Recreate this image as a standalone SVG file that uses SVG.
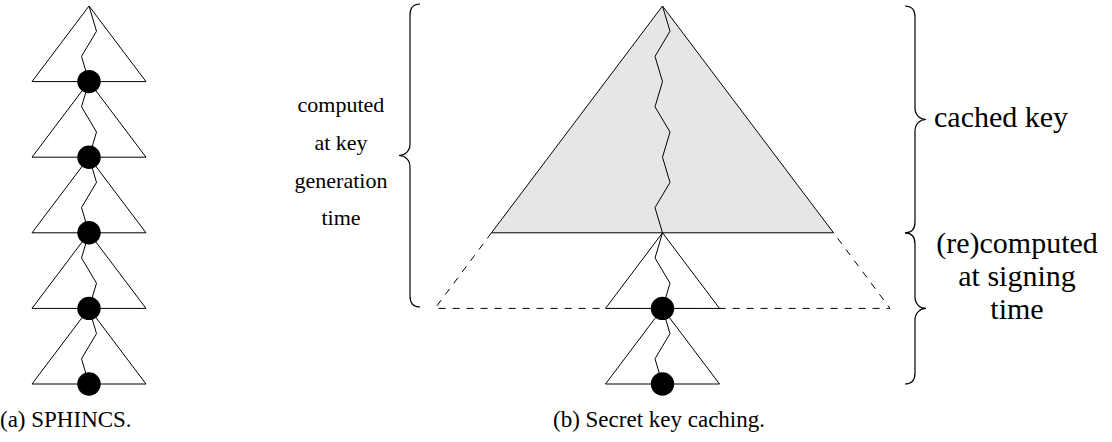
<svg xmlns="http://www.w3.org/2000/svg" width="1112" height="442" viewBox="0 0 1112 442">
<style>
.tri{fill:#fff;stroke:#000;stroke-width:1;stroke-linejoin:miter}
.gray{fill:#e6e6e6;stroke:#000;stroke-width:1}
.zz{fill:none;stroke:#000;stroke-width:1}
.dot{fill:#000}
.dash{fill:none;stroke:#000;stroke-width:1;stroke-dasharray:7 7}
.brace{fill:none;stroke:#000;stroke-width:1.2}
text{font-family:"Liberation Serif","DejaVu Serif",serif;font-size:22px;fill:#000}
.c{text-anchor:middle}
.big{font-size:30px}
.cap{font-size:23px}
</style>
<rect width="1112" height="442" fill="#fff"/>
<g id="sphincs">
<polygon class="tri" points="89,6 32,81.6 146,81.6"/>
<polygon class="tri" points="89,81.6 32,157.2 146,157.2"/>
<polygon class="tri" points="89,157.2 32,232.8 146,232.8"/>
<polygon class="tri" points="89,232.8 32,308.4 146,308.4"/>
<polygon class="tri" points="89,308.4 32,384 146,384"/>
<polyline class="zz" points="89,6 96.5,31.2 81.5,56.4 89,81.6 81.5,106.8 96.5,132 89,157.2 96.5,182.4 81.5,207.6 89,232.8 81.5,258 96.5,283.2 89,308.4 96.5,333.6 81.5,358.8 89,384"/>
<circle class="dot" cx="89" cy="81.6" r="11.7"/>
<circle class="dot" cx="89" cy="157.2" r="11.7"/>
<circle class="dot" cx="89" cy="232.8" r="11.7"/>
<circle class="dot" cx="89" cy="308.4" r="11.7"/>
<circle class="dot" cx="89" cy="384" r="11.7"/>
</g>
<g id="cached">
<polygon class="gray" points="662.5,6 491.5,232.8 833.5,232.8"/>
<polyline class="zz" points="662.5,6 670,31.2 655,56.4 662.5,81.6 655,106.8 670,132 662.5,157.2 670,182.4 655,207.6 662.5,232.8"/>
</g>
<g id="connectors">
<polyline class="dash" points="491.5,232.8 435,308.4 890,308.4 833.5,232.8"/>
</g>
<g id="recomputed">
<polygon class="tri" points="662.5,232.8 605.5,308.4 719.5,308.4"/>
<polygon class="tri" points="662.5,308.4 605.5,384 719.5,384"/>
<polyline class="zz" points="662.5,232.8 655,258 670,283.2 662.5,308.4 670,333.6 655,358.8 662.5,384"/>
<circle class="dot" cx="662.5" cy="308.4" r="11.7"/>
<circle class="dot" cx="662.5" cy="384" r="11.7"/>
</g>
<g id="brace-left">
<path class="brace" d="M420,4 C413,4 410,8 410,15 L410,144 C410,151 405,155.5 399,155.5 C405,155.5 410,160 410,167 L410,296 C410,303 413,307 420,307"/>
<text class="c" x="341" y="112">computed</text>
<text class="c" x="341" y="150">at key</text>
<text class="c" x="341" y="188">generation</text>
<text class="c" x="341" y="225">time</text>
</g>
<g id="brace-cached">
<path class="brace" d="M905,6 C912,6 915,10 915,17 L915,108 C915,115 920,119.5 926,119.5 C920,119.5 915,124 915,131 L915,222 C915,229 912,232.8 905,232.8"/>
<text class="big" x="934" y="127">cached key</text>
</g>
<g id="brace-signing">
<path class="brace" d="M905,232.8 C912,232.8 915,237 915,244 L915,297 C915,304 920,308.4 926,308.4 C920,308.4 915,313 915,320 L915,373 C915,380 912,384 905,384"/>
<text class="c big" x="1017" y="253">(re)computed</text>
<text class="c big" x="1017" y="286">at signing</text>
<text class="c big" x="1017" y="319">time</text>
</g>
<g id="captions">
<text class="cap" x="0" y="427">(a) SPHINCS.</text>
<text class="cap" x="553" y="427">(b) Secret key caching.</text>
</g>
</svg>
